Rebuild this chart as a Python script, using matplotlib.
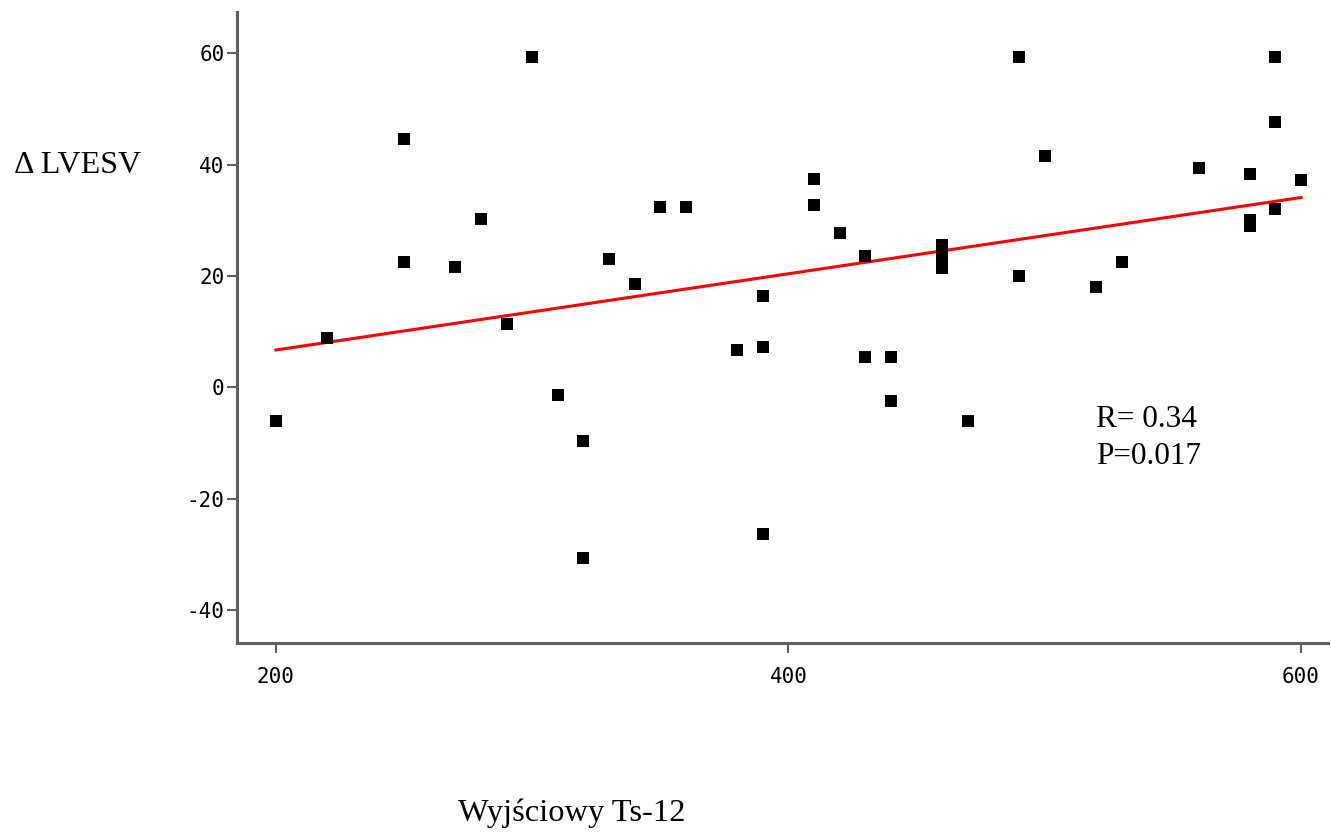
import numpy as np
import matplotlib
matplotlib.use("Agg")
import matplotlib.pyplot as plt

# Data
ts12 = [200, 220, 250, 250, 270, 280, 290, 300, 310, 320, 320, 330, 340, 350, 360,
        380, 390, 390, 390, 410, 410, 420, 430, 430, 440, 440, 460, 460, 460, 470,
        490, 490, 500, 520, 530, 560, 580, 580, 580, 590, 590, 590, 600]
dlvesv = [-6.0, 8.8, 44.6, 22.5, 21.6, 30.2, 11.4, 59.4, -1.4, -9.6, -30.6, 23.0, 18.5, 32.4, 32.4,
          6.8, 16.5, 7.2, -26.4, 37.4, 32.7, 27.7, 23.6, 5.4, 5.4, -2.5, 25.5, 23.5, 21.5, -6.0,
          59.4, 20.0, 41.5, 18.0, 22.5, 39.4, 38.3, 30.1, 29.0, 59.4, 47.7, 32.1, 37.3]

xticks = [200, 400, 600]
yticks = [-40, -20, 0, 20, 40, 60]
stats_text = "R= 0.34\nP=0.017"

fig = plt.figure(figsize=(13.31, 8.33), dpi=100)
ax = fig.add_axes([0.178, 0.228, 0.8197, 0.7576])

x = np.array(ts12, dtype=float)
y = np.array(dlvesv, dtype=float)
slope, intercept = np.polyfit(x, y, 1)
xl = np.array([min(x), max(x)])
ax.plot(xl, slope * xl + intercept, color="#ff0000", lw=2.2, zorder=2)
ax.scatter(x, y, marker="s", s=70, color="black", linewidths=0, zorder=3)

ax.set_xlim(184.8, 610.5)
ax.set_ylim(-45.9, 67.4)
ax.set_xticks(xticks)
ax.set_yticks(yticks)
ax.set_xticklabels([str(t) for t in xticks], family="DejaVu Sans Mono", fontsize=15)
ax.set_yticklabels([str(t) for t in yticks], family="DejaVu Sans Mono", fontsize=15)

spine_col = "#606060"
for s in ["top", "right"]:
    ax.spines[s].set_visible(False)
for s in ["left", "bottom"]:
    ax.spines[s].set_color(spine_col)
    ax.spines[s].set_linewidth(2.2)
ax.tick_params(axis="both", direction="out", length=7, width=1.5, color=spine_col)
ax.tick_params(axis="y", pad=2)
ax.tick_params(axis="x", pad=10)

serif = "Liberation Serif"
fig.text(14 / 1331, 1 - 172.7 / 833, "\u0394 LVESV", family=serif, fontsize=23,
         ha="left", va="baseline")
fig.text(1096 / 1331, 1 - 464 / 833, stats_text, family=serif, fontsize=22.5,
         ha="left", va="baseline", linespacing=1.38)
fig.text(458 / 1331, 1 - 821 / 833, "Wyjściowy Ts-12", family=serif, fontsize=23.4,
         ha="left", va="baseline")

fig.savefig("out.png", dpi=100)
